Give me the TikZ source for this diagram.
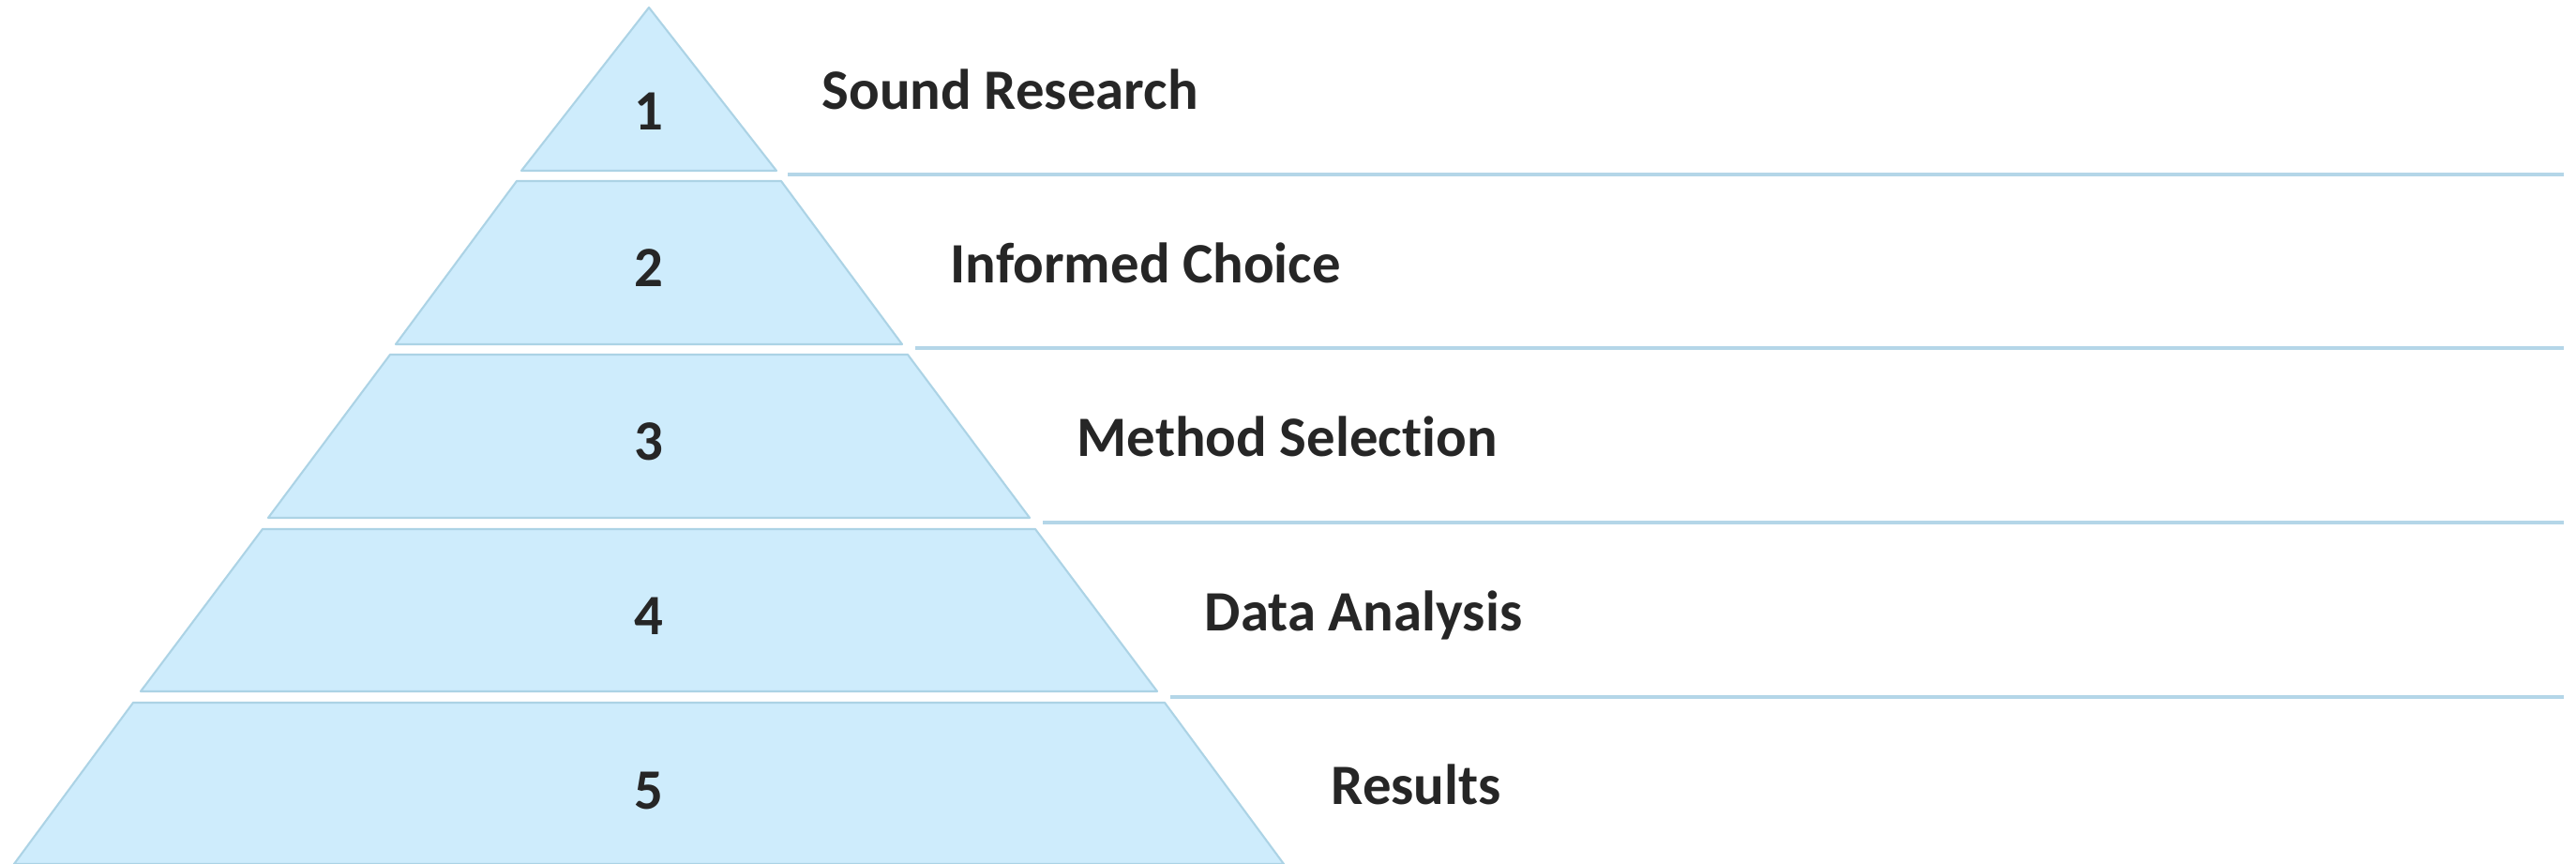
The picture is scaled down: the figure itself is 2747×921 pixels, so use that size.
\documentclass[tikz,border=0pt]{standalone}
\usepackage{fontspec}
\setmainfont{Carlito}[Ligatures=NoCommon]
\usetikzlibrary{calc}
\definecolor{tierfill}{RGB}{206,236,252}
\definecolor{tieredge}{RGB}{172,211,229}
\definecolor{sepblue}{RGB}{180,214,232}
\definecolor{textgray}{RGB}{38,38,38}
\tikzset{
  tier/.style={fill=tierfill, draw=tieredge, line width=0.6pt, line join=round},
  sepline/.style={draw=sepblue, line width=1.05pt},
  numtext/.style={inner sep=0pt, anchor=base, text=textgray, font=\fontsize{17.3}{20}\selectfont\bfseries},
  labeltext/.style={inner sep=0pt, anchor=base west, text=textgray, font=\fontsize{17.3}{20}\selectfont\bfseries}
}

\begin{document}
\begin{tikzpicture}[x=0.01cm, y=0.01cm]
			%%%%% START %%%%%
			\useasboundingbox (0, 0) rectangle (2747, 921);
			
			% pyramid tiers
			\draw[tier] (692, 913) -- (828, 739) -- (556, 739) -- cycle;
			\draw[tier] (551, 728) -- (833, 728) -- (962, 554) -- (422, 554) -- cycle;
			\draw[tier] (416, 543) -- (968, 543) -- (1098, 369) -- (286, 369) -- cycle;
			\draw[tier] (280, 357) -- (1104, 357) -- (1234, 184) -- (150, 184) -- cycle;
			\draw[tier] (142, 172) -- (1242, 172) -- (1369, 0) -- (15, 0) -- cycle;
			
			% separator lines
			\coordinate (sep1a) at (840, 735);  \coordinate (sep1b) at (2734, 735);
			\coordinate (sep2a) at (976, 550);  \coordinate (sep2b) at (2734, 550);
			\coordinate (sep3a) at (1112, 364); \coordinate (sep3b) at (2734, 364);
			\coordinate (sep4a) at (1248, 178); \coordinate (sep4b) at (2734, 178);
			\draw[sepline] (sep1a) -- (sep1b);
			\draw[sepline] (sep2a) -- (sep2b);
			\draw[sepline] (sep3a) -- (sep3b);
			\draw[sepline] (sep4a) -- (sep4b);
			
			% numbers
			\node[numtext] (num1) at (692, 782) {1};
			\node[numtext] (num2) at (692, 615) {2};
			\node[numtext] (num3) at (692, 430) {3};
			\node[numtext] (num4) at (692, 244) {4};
			\node[numtext] (num5) at (692, 58) {5};
			
			% labels
			\node[labeltext] (lab1) at (876, 804) {Sound Research};
			\node[labeltext] (lab2) at (1013, 619) {Informed Choice};
			\node[labeltext] (lab3) at (1148, 434) {Method Selec{}tion};
			\node[labeltext] (lab4) at (1284, 248) {Data Analysis};
			\node[labeltext] (lab5) at (1419, 63) {Results};
			
			%%%%% END %%%%%
		\end{tikzpicture}
\end{document}
